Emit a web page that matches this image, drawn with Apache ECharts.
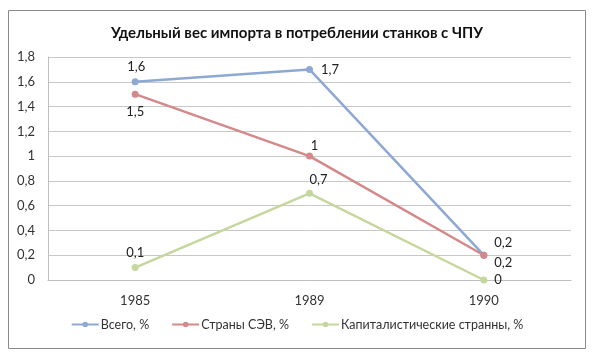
<!DOCTYPE html>
<html><head><meta charset="utf-8">
<script src="https://cdn.jsdelivr.net/npm/echarts@6/dist/echarts.min.js"></script>
<style>html,body{margin:0;padding:0;background:#fff}#c{width:594px;height:356px}</style>
</head><body><div id="c"></div>
<script>
const categories = ['1985', '1989', '1990'];
const seriesNames = ['Всего, %', 'Страны СЭВ, %', 'Капиталистические странны, %'];
const totalValues = [1.6, 1.7, 0.2];
const cmeaValues = [1.5, 1, 0.2];
const capitalistValues = [0.1, 0.7, 0];
const yTicks = [0, 0.2, 0.4, 0.6, 0.8, 1, 1.2, 1.4, 1.6, 1.8];

const colors = ['#8EA8D4', '#D4888A', '#C5D79D'];
const FONT = 'Lato';
// label placement per point: [position, offset]
const labelPos = [
  [['top', [1, 0]], ['right', [3, 0]], ['right', [2, -12]]],
  [['bottom', [0, 3]], ['top', [5, 5]], ['right', [2, 8]]],
  [['top', [0, 0]], ['top', [9, 2]], ['right', [2, 0]]]
];
const fmt = v => String(v).replace('.', ',');
const datasets = [totalValues, cmeaValues, capitalistValues];

const series = datasets.map((vals, k) => ({
  name: seriesNames[k],
  type: 'line',
  data: vals.map((v, i) => ({
    value: v,
    label: { position: labelPos[k][i][0], offset: labelPos[k][i][1] }
  })),
  symbol: 'circle',
  symbolSize: 7,
  lineStyle: { width: 2.5, color: colors[k] },
  itemStyle: { color: colors[k] },
  label: {
    show: true, color: '#222', fontSize: 13, fontFamily: FONT,
    formatter: p => fmt(p.value)
  },
  emphasis: { disabled: true },
  animation: false
}));

const chart = echarts.init(document.getElementById('c'));
chart.setOption({
  animation: false,
  title: {
    text: 'Удельный вес импорта в потреблении станков с ЧПУ',
    left: 'center', top: 21,
    textStyle: { fontSize: 15, fontWeight: 'bold', color: '#111', fontFamily: FONT }
  },
  graphic: [{
    type: 'rect', shape: { x: 8.5, y: 10.5, width: 577, height: 338 },
    style: { fill: 'none', stroke: '#8a8a8a', lineWidth: 1 }, silent: true, z: -1
  }],
  grid: { left: 48, right: 23, top: 57, bottom: 76 },
  legend: {
    bottom: 20, left: 'center', itemGap: 22, itemWidth: 27, itemHeight: 7,
    data: seriesNames,
    textStyle: { fontSize: 12.5, color: '#333', fontFamily: FONT, padding: [0, 0, 0, -3] }
  },
  xAxis: {
    type: 'category', data: categories, boundaryGap: true,
    axisLine: { show: true, lineStyle: { color: '#bfbfbf' } },
    axisTick: { show: false },
    axisLabel: { color: '#333', fontSize: 13, margin: 14, fontFamily: FONT }
  },
  yAxis: {
    type: 'value', min: 0, max: 1.8, interval: 0.2,
    axisLine: { show: true, lineStyle: { color: '#bfbfbf' } },
    axisTick: { show: false },
    splitLine: { lineStyle: { color: '#c8c8c8', width: 1 } },
    axisLabel: {
      color: '#333', fontSize: 13, margin: 13, fontFamily: FONT,
      formatter: v => {
        const t = yTicks.find(x => Math.abs(x - v) < 1e-9);
        return fmt(t !== undefined ? t : +v.toFixed(1));
      }
    }
  },
  series
});
</script></body></html>
